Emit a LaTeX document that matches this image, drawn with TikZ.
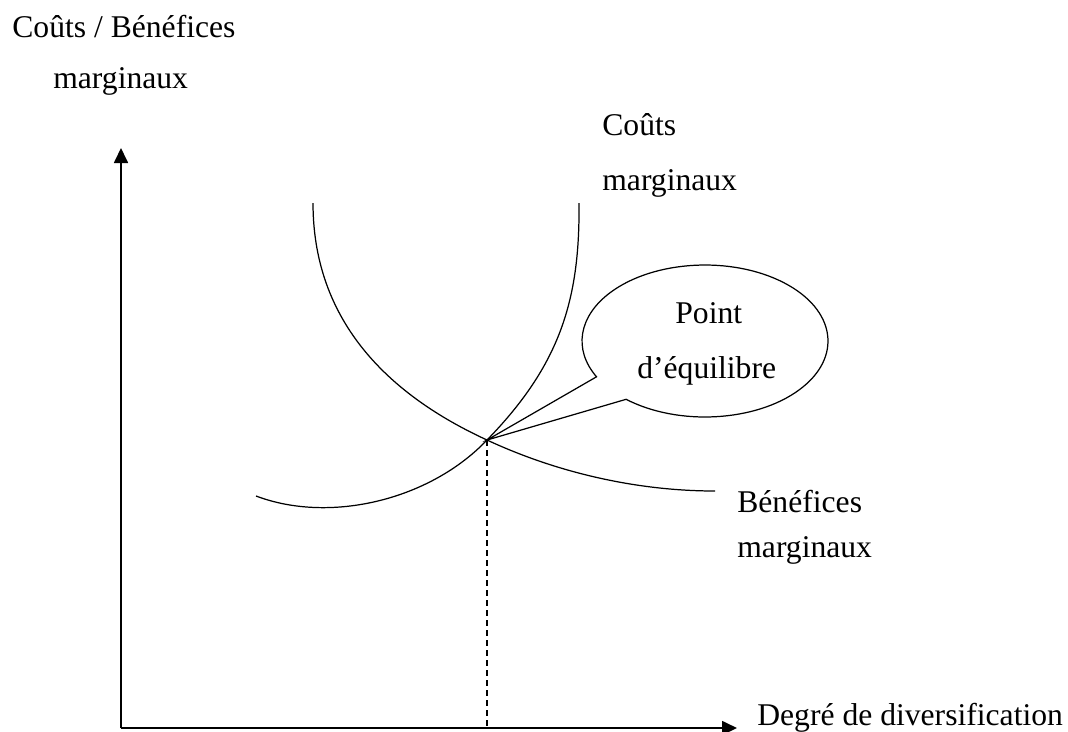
\documentclass[tikz,border=0pt]{standalone}
\usepackage{fontspec}
\setmainfont{Liberation Serif}
\usetikzlibrary{arrows.meta}

\begin{document}
\begin{tikzpicture}[x=0.02cm,y=-0.02cm,
  lbl/.style={anchor=base west,inner sep=0pt,font=\fontsize{18}{22}\selectfont},
  axis/.style={line width=1pt,-{Triangle[length=0.3cm,width=0.28cm]}},
  curve/.style={line width=0.7pt}]

\useasboundingbox (0,0) rectangle (1068,731);

%AXES
\coordinate (O) at (121,728);
\coordinate (ytip) at (121,148);
\coordinate (xtip) at (737,728);
% vertical axis
\draw[axis] (O) -- (ytip);
% horizontal axis
\draw[axis] (O) -- (xtip);

%GRAPH
\coordinate (eq) at (487,440);
%Couts marginaux
\coordinate (cstart) at (256,496);
\coordinate (cend) at (579,203);
\draw[curve] (cstart) .. controls (330,524) and (430,500) .. (eq)
  .. controls (560,365) and (580,300) .. (cend);
%Benefices marginaux
\coordinate (bstart) at (313,203);
\coordinate (bend) at (715,491);
\draw[curve] (bstart) .. controls (313,330) and (400,400) .. (eq)
  .. controls (560,474) and (640,491) .. (bend);
%Equilibre
\draw[line width=0.8pt,dash pattern=on 3.4pt off 2.3pt] (eq) -- (eq |- O);

%CALLOUT
\coordinate (eqc) at (705,341);
\draw[curve] (eqc) ++(230.1:2.46cm and 1.52cm)
  arc[start angle=230.1,end angle=568.1,x radius=2.46cm,y radius=1.52cm]
  -- (eq) -- cycle;
\node[lbl] (pt1) at (675,323) {Point};
\node[lbl] (pt2) at (637,378) {d’équilibre};

%LABELS
\node[lbl] (ylab1) at (12,37) {Coûts / Bénéfices};
\node[lbl] (ylab2) at (53,88) {marginaux};
\node[lbl] (cout1) at (602,135) {Coûts};
\node[lbl] (cout2) at (602,190) {marginaux};
\node[lbl] (ben1) at (737,512) {Bénéfices};
\node[lbl] (ben2) at (737,557) {marginaux};
\node[lbl] (xlab) at (757,725) {Degré de diversification};

\end{tikzpicture}
\end{document}
